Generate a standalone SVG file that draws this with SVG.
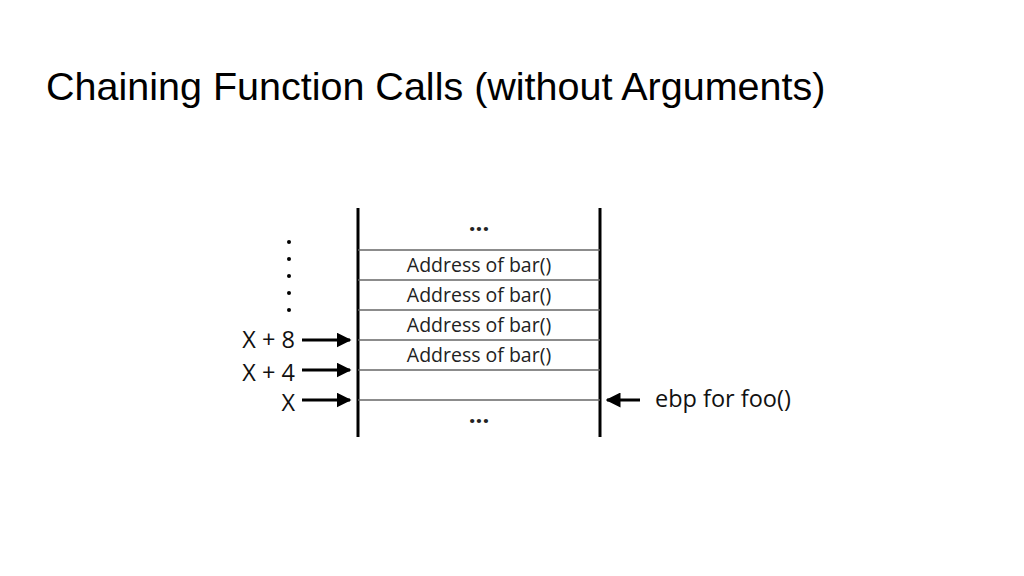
<svg xmlns="http://www.w3.org/2000/svg" width="1024" height="576" viewBox="0 0 1024 576">
<style>
.t{font-family:"Liberation Sans",Arial,sans-serif;fill:#000}
.c{font-family:"Open Sans","Noto Sans",sans-serif;font-size:19.5px;fill:#222;text-anchor:middle}
.e{font-family:"Open Sans","Noto Sans",sans-serif;font-size:24px;font-weight:bold;fill:#222;text-anchor:middle}
.l{font-family:"Open Sans","Noto Sans",sans-serif;font-size:23.5px;fill:#111}
.h{stroke:#666;stroke-width:1.3}
.a{stroke:#000;stroke-width:3;marker-end:url(#ar)}
</style>
<defs><marker id="ar" markerWidth="5" markerHeight="5" refX="4.5" refY="2.5" orient="auto" markerUnits="strokeWidth"><path d="M0,0L5,2.5L0,5z"/></marker></defs>
<rect width="1024" height="576" fill="#fff"/>
<text class="t" x="46" y="100" font-size="39.5">Chaining Function Calls (without Arguments)</text>
<g id="stack">
<line x1="358" y1="208" x2="358" y2="437" stroke="#000" stroke-width="3"/>
<line x1="600" y1="208" x2="600" y2="437" stroke="#000" stroke-width="3"/>
<line class="h" x1="358" y1="250" x2="600" y2="250"/>
<line class="h" x1="358" y1="280" x2="600" y2="280"/>
<line class="h" x1="358" y1="310" x2="600" y2="310"/>
<line class="h" x1="358" y1="340" x2="600" y2="340"/>
<line class="h" x1="358" y1="370" x2="600" y2="370"/>
<line class="h" x1="358" y1="400" x2="600" y2="400"/>
<text class="e" x="479" y="231">...</text>
<text class="c" x="479" y="272">Address of bar()</text>
<text class="c" x="479" y="302">Address of bar()</text>
<text class="c" x="479" y="332">Address of bar()</text>
<text class="c" x="479" y="362">Address of bar()</text>
<text class="e" x="479" y="423">...</text>
</g>
<g id="dots" fill="#000">
<circle cx="289" cy="242" r="2"/><circle cx="289" cy="259" r="2"/><circle cx="289" cy="276" r="2"/><circle cx="289" cy="293" r="2"/><circle cx="289" cy="310" r="2"/>
</g>
<g id="labels">
<text class="l" x="295" y="348" text-anchor="end">X + 8</text>
<text class="l" x="295" y="381" text-anchor="end">X + 4</text>
<text class="l" x="295" y="411" text-anchor="end">X</text>
<text class="l" x="655" y="407">ebp for foo()</text>
</g>
<g id="connectors">
<line class="a" x1="302" y1="340" x2="350" y2="340"/>
<line class="a" x1="302" y1="370" x2="350" y2="370"/>
<line class="a" x1="302" y1="400" x2="350" y2="400"/>
<line class="a" x1="640" y1="400" x2="607" y2="400"/>
</g>
</svg>
